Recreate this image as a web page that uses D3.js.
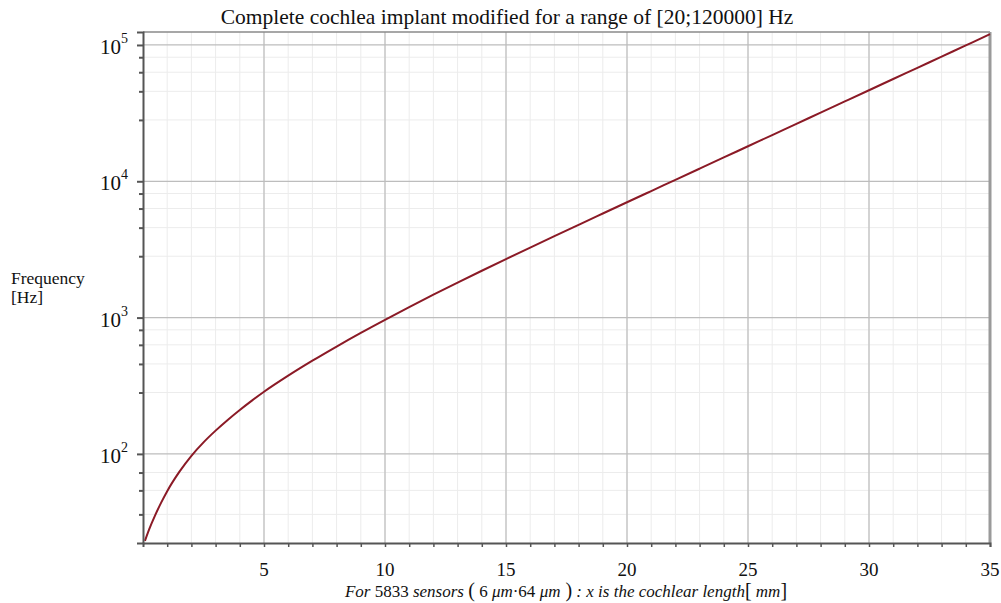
<!DOCTYPE html>
<html><head><meta charset="utf-8">
<script src="https://cdn.jsdelivr.net/npm/d3@7"></script>
<style>
html,body{margin:0;padding:0;background:#fff;}
svg{display:block;font-family:"Liberation Serif","DejaVu Serif",serif;}
</style></head>
<body>
<svg id="chart" width="1001" height="603"></svg>
<script>
// ---- data ----
const lengthMM = [0.08, 0.25, 0.5, 0.75, 1, 1.5, 2, 2.5, 3, 3.5, 4, 4.5, 5, 6, 7, 8, 9, 10, 11, 12, 13, 14, 15, 16, 17, 18, 19, 20, 21, 22, 23, 24, 25, 26, 27, 28, 29, 30, 31, 32, 33, 34, 35];
const freqHz   = [23, 27.8, 35.4, 43.9, 53.3, 73.8, 96.9, 121.6, 148.2, 177.5, 210, 245.9, 285.6, 374.8, 482.8, 613.5, 772.3, 963, 1193, 1472, 1806, 2207, 2687, 3264, 3959, 4794, 5800, 7015, 8478, 10243, 12378, 14958, 18072, 21838, 26386, 31888, 38530, 46559, 56260, 67980, 82150, 99260, 119950];
const xMajorTicks = [5, 10, 15, 20, 25, 30, 35];
const xMinorTicks = d3.range(1, 36);
const yMajorTicks = [100, 1000, 10000, 100000];
const yMajorExp   = ["2", "3", "4", "5"];
const yMinorTicks = [36, 54, 73, 282, 457, 631, 813, 2820, 4570, 6310, 8130, 28200, 45700, 63100, 81300];
const titleText = "Complete cochlea implant modified for a range of [20;120000] Hz";

const svg = d3.select("#chart");
const L = 143, R = 990, T = 32, B = 543;
const x = d3.scaleLinear().domain([0, 35]).range([L, R]);
const y = d3.scaleLog().domain([22.2, 124500]).range([B, T]);

// minor grid
const g = svg.append("g");
g.selectAll(".vmin").data(xMinorTicks).join("line")
  .attr("x1", d => x(d)).attr("x2", d => x(d)).attr("y1", T).attr("y2", B)
  .attr("stroke", "#ececec").attr("stroke-width", 1);
g.selectAll(".hmin").data(yMinorTicks).join("line")
  .attr("x1", L).attr("x2", R).attr("y1", d => y(d)).attr("y2", d => y(d))
  .attr("stroke", "#ececec").attr("stroke-width", 1);
// major grid
g.selectAll(".vmaj").data(xMajorTicks.filter(d => d < 35)).join("line")
  .attr("x1", d => x(d)).attr("x2", d => x(d)).attr("y1", T).attr("y2", B)
  .attr("stroke", "#bdbdbd").attr("stroke-width", 1.2);
g.selectAll(".hmaj").data(yMajorTicks).join("line")
  .attr("x1", L).attr("x2", R).attr("y1", d => y(d)).attr("y2", d => y(d))
  .attr("stroke", "#bdbdbd").attr("stroke-width", 1.2);

// frame top/right
svg.append("line").attr("x1", L).attr("x2", R).attr("y1", T).attr("y2", T)
  .attr("stroke", "#8a8a8a").attr("stroke-width", 1.5);
svg.append("line").attr("x1", R).attr("x2", R).attr("y1", T).attr("y2", B)
  .attr("stroke", "#9a9a9a").attr("stroke-width", 3);

// curve
const line = d3.line().x((d, i) => x(lengthMM[i])).y((d, i) => y(freqHz[i])).curve(d3.curveMonotoneX);
svg.append("path").datum(freqHz).attr("d", line)
  .attr("fill", "none").attr("stroke", "#8b1a26").attr("stroke-width", 2);

// x axis
const xAxis = d3.axisBottom(x).tickValues(xMinorTicks).tickSize(4).tickFormat("");
const gx = svg.append("g").attr("transform", `translate(0,${B})`).call(xAxis);
gx.select(".domain").attr("stroke", "#555").attr("stroke-width", 2);
gx.selectAll(".tick line").attr("stroke", "#555").attr("stroke-width", 1.5);
svg.selectAll(".xlab").data(xMajorTicks).join("text")
  .attr("x", d => x(d)).attr("y", 576).attr("text-anchor", "middle")
  .attr("font-size", 19).attr("fill", "#111").text(d => d);

// y axis
const yAxis = d3.axisLeft(y).tickValues(yMajorTicks).tickSize(6).tickFormat("");
const gy = svg.append("g").attr("transform", `translate(${L},0)`).call(yAxis);
gy.select(".domain").attr("stroke", "#555").attr("stroke-width", 2);
gy.selectAll(".tick line").attr("stroke", "#555").attr("stroke-width", 2);
const yAxisMin = d3.axisLeft(y).tickValues(yMinorTicks).tickSize(4).tickFormat("");
const gy2 = svg.append("g").attr("transform", `translate(${L},0)`).call(yAxisMin);
gy2.select(".domain").remove();
gy2.selectAll(".tick line").attr("stroke", "#555").attr("stroke-width", 2);

const yl = svg.selectAll(".ylab").data(yMajorTicks).join("text")
  .attr("x", 128).attr("y", d => y(d) + 9).attr("text-anchor", "end")
  .attr("font-size", 21).attr("fill", "#111");
yl.append("tspan").text("10");
yl.append("tspan").attr("dy", -11).attr("font-size", 14).text((d, i) => yMajorExp[i]);

// title
svg.append("text").attr("x", 507).attr("y", 24).attr("text-anchor", "middle")
  .attr("font-size", 21.5).attr("fill", "#111").text(titleText);

// y label
svg.append("text").attr("x", 11).attr("y", 284).attr("font-size", 17.5).attr("fill", "#111").text("Frequency");
svg.append("text").attr("x", 11).attr("y", 303).attr("font-size", 17.5).attr("fill", "#111").text("[Hz]");

// x label
const xl = svg.append("text").attr("x", 566).attr("y", 597).attr("text-anchor", "middle")
  .attr("font-size", 17).attr("fill", "#111");
xl.append("tspan").attr("font-style", "italic").text("For ");
xl.append("tspan").text("5833");
xl.append("tspan").attr("font-style", "italic").text(" sensors ");
xl.append("tspan").attr("font-size", 20).text("(");
xl.append("tspan").text(" 6 ");
xl.append("tspan").attr("font-style", "italic").text("μm");
xl.append("tspan").text("·64 ");
xl.append("tspan").attr("font-style", "italic").text("μm");
xl.append("tspan").attr("font-size", 20).text(" )");
xl.append("tspan").attr("font-style", "italic").text(" : x is the cochlear length");
xl.append("tspan").attr("font-size", 20).text("[");
xl.append("tspan").attr("font-style", "italic").text(" mm");
xl.append("tspan").attr("font-size", 20).text("]");
</script>
</body></html>
